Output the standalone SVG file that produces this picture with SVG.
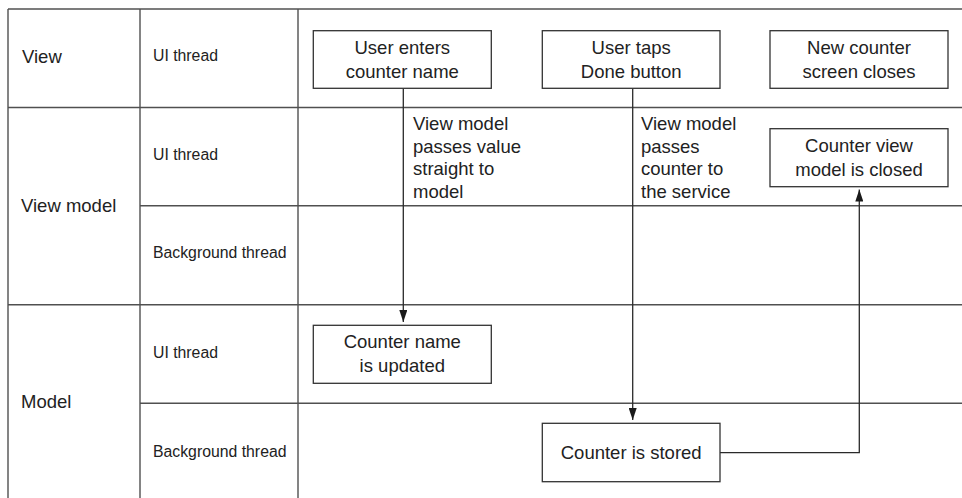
<svg xmlns="http://www.w3.org/2000/svg" width="962" height="498" viewBox="0 0 962 498">
<defs>
<style>
.grid{stroke:#505050;stroke-width:1.4;fill:none}
.box{fill:#fff;stroke:#333;stroke-width:1.3}
.conn{stroke:#2a2a2a;stroke-width:1.3;fill:none}
text{font-family:"Liberation Sans",Arial,sans-serif;fill:#222}
.lane{font-size:18.5px}
.thr{font-size:15.8px}
.nt{font-size:18.5px;text-anchor:middle}
.lbl{font-size:18.5px}
</style>
<marker id="arr" markerWidth="12" markerHeight="8" refX="12" refY="4" orient="auto" markerUnits="userSpaceOnUse" viewBox="0 0 12 8">
<path d="M0,0 L12,4 L0,8 Z" fill="#1a1a1a"/>
</marker>
</defs>
<rect width="962" height="498" fill="#fff"/>
<g id="grid" class="grid">
<line x1="8" y1="9" x2="962" y2="9"/>
<line x1="8" y1="107.5" x2="962" y2="107.5"/>
<line x1="140" y1="205.7" x2="962" y2="205.7"/>
<line x1="8" y1="304.7" x2="962" y2="304.7"/>
<line x1="140" y1="403.3" x2="962" y2="403.3"/>
<line x1="8" y1="9" x2="8" y2="498"/>
<line x1="140" y1="9" x2="140" y2="498"/>
<line x1="298" y1="9" x2="298" y2="498"/>
</g>
<g id="lanes">
<text class="lane" x="22" y="63">View</text>
<text class="lane" x="21" y="212">View model</text>
<text class="lane" x="21" y="408">Model</text>
<text class="thr" x="153" y="61">UI thread</text>
<text class="thr" x="153" y="160">UI thread</text>
<text class="thr" x="153" y="258">Background thread</text>
<text class="thr" x="153" y="358">UI thread</text>
<text class="thr" x="153" y="457">Background thread</text>
</g>
<g id="connectors">
<path class="conn" d="M403.3,88.5 V322" marker-end="url(#arr)"/>
<path class="conn" d="M632.7,88.5 V420" marker-end="url(#arr)"/>
<path class="conn" d="M720,452.7 H859.3 V189.5" marker-end="url(#arr)"/>
<text class="lbl" x="413" y="130">View model</text>
<text class="lbl" x="413" y="152.5">passes value</text>
<text class="lbl" x="413" y="175">straight to</text>
<text class="lbl" x="413" y="197.5">model</text>
<text class="lbl" x="641" y="130">View model</text>
<text class="lbl" x="641" y="152.5">passes</text>
<text class="lbl" x="641" y="175">counter to</text>
<text class="lbl" x="641" y="197.5">the service</text>
</g>
<g id="n1">
<rect class="box" x="313.3" y="30.7" width="178" height="57.6"/>
<text class="nt" x="402.3" y="53.5">User enters</text>
<text class="nt" x="402.3" y="77.5">counter name</text>
</g>
<g id="n2">
<rect class="box" x="542.3" y="30.7" width="177.7" height="57.6"/>
<text class="nt" x="631.2" y="53.5">User taps</text>
<text class="nt" x="631.2" y="77.5">Done button</text>
</g>
<g id="n3">
<rect class="box" x="770" y="30.7" width="178" height="57.6"/>
<text class="nt" x="859" y="53.5">New counter</text>
<text class="nt" x="859" y="77.5">screen closes</text>
</g>
<g id="n4">
<rect class="box" x="770" y="128.7" width="178" height="58"/>
<text class="nt" x="859" y="152">Counter view</text>
<text class="nt" x="859" y="176">model is closed</text>
</g>
<g id="n5">
<rect class="box" x="313.3" y="325.3" width="178" height="58"/>
<text class="nt" x="402.3" y="348">Counter name</text>
<text class="nt" x="402.3" y="372">is updated</text>
</g>
<g id="n6">
<rect class="box" x="542.3" y="423.3" width="177.7" height="58.4"/>
<text class="nt" x="631.2" y="458.5">Counter is stored</text>
</g>
</svg>
